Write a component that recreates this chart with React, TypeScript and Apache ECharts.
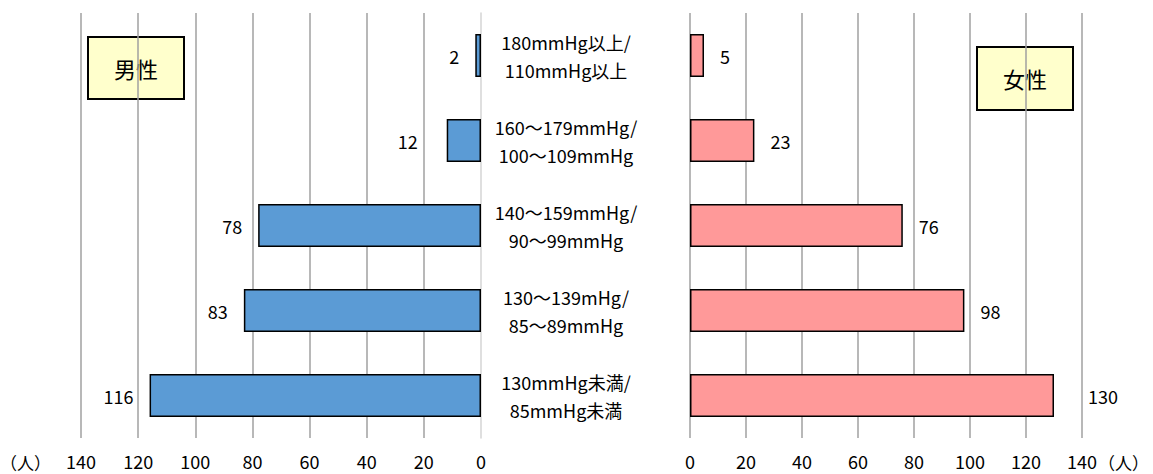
import React, { useEffect, useRef } from "react";
import * as echarts from "echarts";

// Blood pressure bands (top to bottom)
const categories = [
  "180mmHg以上/\n110mmHg以上",
  "160～179mmHg/\n100～109mmHg",
  "140～159mmHg/\n90～99mmHg",
  "130～139mHg/\n85～89mmHg",
  "130mmHg未満/\n85mmHg未満",
];
const maleCounts = [2, 12, 78, 83, 116];
const femaleCounts = [5, 23, 76, 98, 130];
const axisMax = 140;
const axisStep = 20;
const unitLabel = "（人）";

const FONT = "'Noto Sans CJK JP', 'Noto Sans', sans-serif";
const GRID_COLOR = "#a0a0a0";

export default function App() {
  const ref = useRef<HTMLDivElement>(null);

  useEffect(() => {
    document.body.style.margin = "0";
    const chart = echarts.init(ref.current!, null, { renderer: "svg" });

    const xAxisCommon = {
      type: "value" as const,
      min: 0,
      max: axisMax,
      interval: axisStep,
      axisLine: { show: false },
      axisTick: { show: false },
      axisLabel: { fontSize: 18, color: "#000", fontFamily: FONT, margin: 14 },
      splitLine: { show: true, lineStyle: { color: GRID_COLOR, width: 1.5 } },
    };

    const labelBase = {
      show: true,
      fontSize: 18,
      color: "#000",
      fontFamily: FONT,
      distance: 16,
    };

    const boxText = (text: string) => ({
      type: "text",
      x: 48,
      y: 31,
      style: {
        text,
        fontSize: 22,
        fontFamily: FONT,
        fill: "#000",
        align: "center",
        verticalAlign: "middle",
      },
    });

    chart.setOption({
      animation: false,
      grid: [
        { left: 81, right: 1153 - 481, top: 13, bottom: 36 },
        { left: 690, right: 1153 - 1082, top: 13, bottom: 36 },
      ],
      xAxis: [
        {
          ...xAxisCommon,
          gridIndex: 0,
          inverse: true,
          splitLine: {
            show: true,
            showMinLine: false,
            lineStyle: { color: GRID_COLOR, width: 1.5 },
          },
        },
        { ...xAxisCommon, gridIndex: 1 },
      ],
      yAxis: [
        {
          type: "category",
          gridIndex: 0,
          data: categories,
          inverse: true,
          position: "right",
          axisLine: { show: true, lineStyle: { color: "#d4d4d4", width: 1.5 } },
          axisTick: { show: false },
          axisLabel: {
            fontSize: 18,
            color: "#000",
            fontFamily: FONT,
            align: "center",
            margin: 85,
            lineHeight: 28,
          },
        },
        {
          type: "category",
          gridIndex: 1,
          data: categories,
          inverse: true,
          axisLine: { show: false },
          axisTick: { show: false },
          axisLabel: { show: false },
        },
      ],
      series: [
        {
          type: "bar",
          xAxisIndex: 0,
          yAxisIndex: 0,
          barWidth: 43,
          data: maleCounts.map((v, i) =>
            i === 1 ? { value: v, label: { distance: 29 } } : v
          ),
          itemStyle: { color: "#5B9BD5", borderColor: "#000", borderWidth: 1.5 },
          label: { ...labelBase, position: "left" },
        },
        {
          type: "bar",
          xAxisIndex: 1,
          yAxisIndex: 1,
          barWidth: 43,
          data: femaleCounts.map((v, i) =>
            i === 4 ? { value: v, label: { distance: 34 } } : v
          ),
          itemStyle: { color: "#FF9999", borderColor: "#000", borderWidth: 1.5 },
          label: { ...labelBase, position: "right" },
        },
      ],
      graphic: [
        {
          type: "group",
          left: 87,
          top: 36,
          children: [
            {
              type: "rect",
              shape: { x: 0, y: 0, width: 96, height: 62 },
              style: { fill: "#FFFFCC", stroke: "#000", lineWidth: 2 },
            },
            boxText("男性"),
          ],
        },
        {
          type: "group",
          left: 976,
          top: 46,
          children: [
            {
              type: "rect",
              shape: { x: 0, y: 0, width: 96, height: 63 },
              style: { fill: "#FFFFCC", stroke: "#000", lineWidth: 2 },
            },
            boxText("女性"),
          ],
        },
        {
          type: "text",
          x: 0,
          y: 462,
          style: {
            text: unitLabel,
            fontSize: 17,
            fontFamily: FONT,
            fill: "#000",
            verticalAlign: "middle",
          },
        },
        {
          type: "text",
          x: 1098,
          y: 462,
          style: {
            text: unitLabel,
            fontSize: 17,
            fontFamily: FONT,
            fill: "#000",
            verticalAlign: "middle",
          },
        },
      ],
    });

    return () => chart.dispose();
  }, []);

  return <div ref={ref} style={{ width: 1153, height: 474 }} />;
}
